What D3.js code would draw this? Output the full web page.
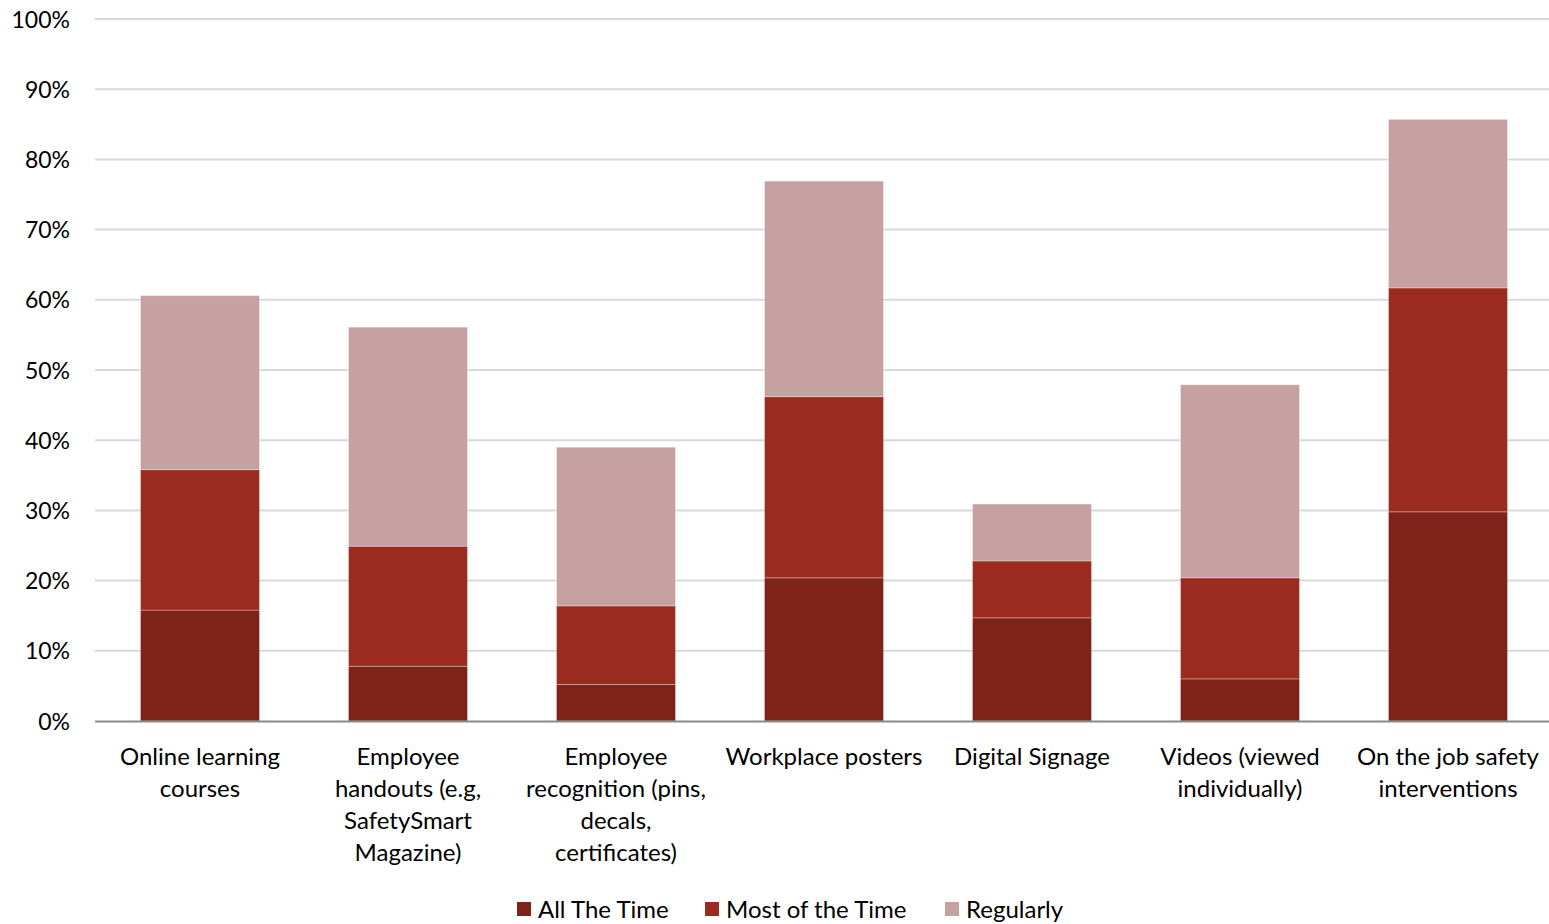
<!DOCTYPE html>
<html><head><meta charset="utf-8">
<script src="https://cdn.jsdelivr.net/npm/d3@7"></script>
<style>body{margin:0;background:#fff}svg{display:block}text{font-family:Lato,"Noto Sans",sans-serif;fill:#000}</style>
</head><body><svg id="c" width="1549" height="924"></svg>
<script>
const categories = [
  ["Online learning","courses"],
  ["Employee","handouts (e.g,","SafetySmart","Magazine)"],
  ["Employee","recognition (pins,","decals,","certificates)"],
  ["Workplace posters"],
  ["Digital Signage"],
  ["Videos (viewed","individually)"],
  ["On the job safety","interventions"]
];
const seriesNames = ["All The Time","Most of the Time","Regularly"];
const allTheTime   = [15.8, 7.8, 5.2, 20.4, 14.7, 6.0, 29.8];
const mostOfTime   = [20.0, 17.1, 11.2, 25.8, 8.1, 14.4, 31.9];
const regularly    = [24.8, 31.2, 22.6, 30.7, 8.1, 27.5, 24.0];
const yTicks = [0,10,20,30,40,50,60,70,80,90,100];
const colors = ["#7F2219","#9B2B1F","#C5A2A1"];

const svg = d3.select("#c");
const x = d3.scaleBand().domain(d3.range(categories.length)).range([96,1552]).paddingInner(0.428).paddingOuter(0.214);
const y = d3.scaleLinear().domain([0,100]).range([721,19]);

svg.append("g").selectAll("line").data(yTicks.filter(d=>d>0)).join("line")
  .attr("x1",95).attr("x2",1549).attr("y1",d=>y(d)).attr("y2",d=>y(d))
  .attr("stroke","#d9d9d9").attr("stroke-width",2);

const yAxis = d3.axisLeft(y).tickValues(yTicks).tickFormat(d=>d+"%").tickSize(0).tickPadding(25);
const ya = svg.append("g").attr("transform","translate(95,0)").call(yAxis);
ya.select(".domain").remove();
ya.selectAll("text").style("font-size","23px").attr("dy","0.35em");

const rows = categories.map((c,i)=>({i, a:allTheTime[i], m:mostOfTime[i], r:regularly[i]}));
const stack = d3.stack().keys(["a","m","r"])(rows);
svg.append("g").selectAll("g").data(stack).join("g").attr("fill",(d,k)=>colors[k])
  .selectAll("rect").data(d=>d).join("rect")
  .attr("x",d=>x(d.data.i)).attr("width",x.bandwidth())
  .attr("y",d=>y(d[1])).attr("height",d=>y(d[0])-y(d[1]))
  .attr("stroke","rgba(255,255,255,0.3)").attr("stroke-width",1);

svg.append("line").attr("x1",95).attr("x2",1549).attr("y1",y(0)+0.5).attr("y2",y(0)+0.5)
  .attr("stroke","#898989").attr("stroke-width",2);

const cl = svg.append("g").selectAll("text").data(categories).join("text")
  .attr("text-anchor","middle").style("font-size","24px")
  .attr("transform",(d,i)=>`translate(${x(i)+x.bandwidth()/2},765)`);
cl.selectAll("tspan").data(d=>d).join("tspan").attr("x",0).attr("dy",(d,j)=>j?32:0).text(d=>d);

const lx = [517, 705, 945];
const lg = svg.append("g").selectAll("g").data(seriesNames).join("g").attr("transform",(d,i)=>`translate(${lx[i]},902)`);
lg.append("rect").attr("width",14).attr("height",14).attr("fill",(d,i)=>colors[i]);
lg.append("text").attr("x",21).attr("y",16).style("font-size","24px").text(d=>d);
</script></body></html>
